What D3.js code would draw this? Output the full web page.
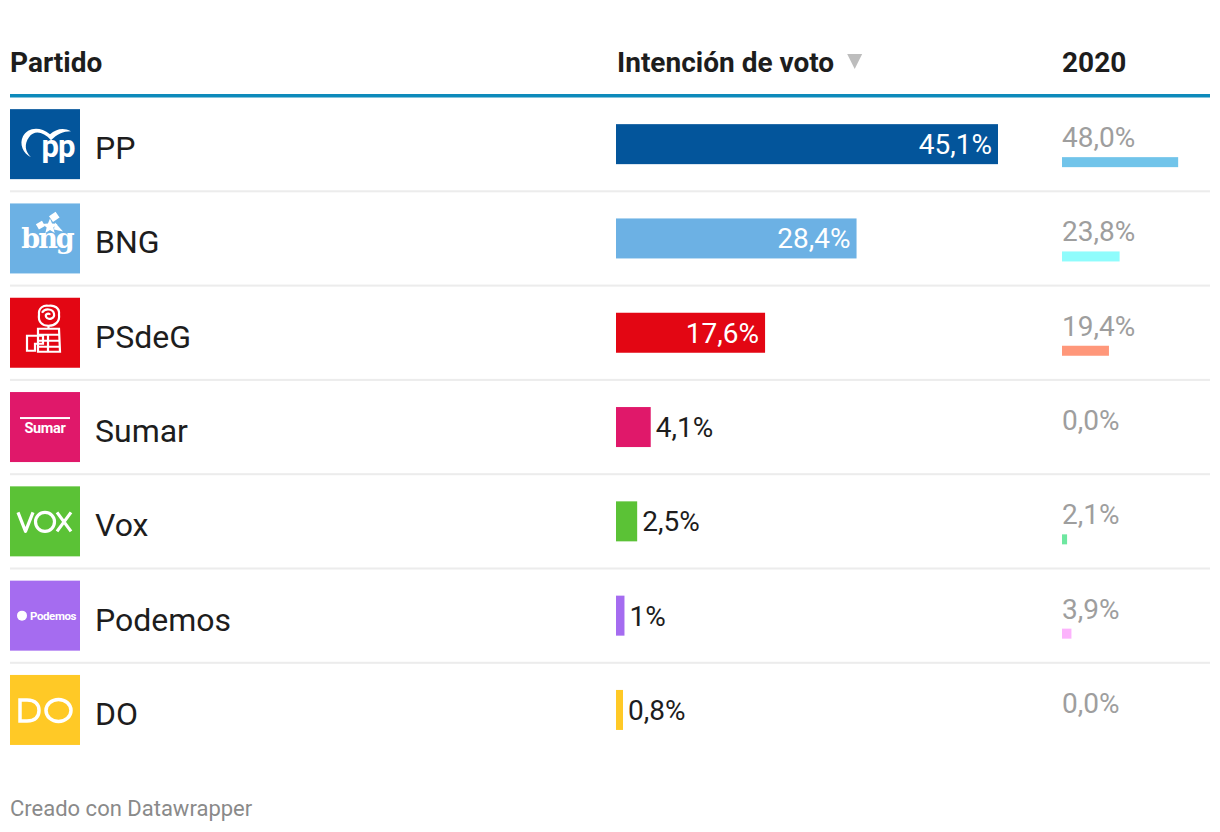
<!DOCTYPE html>
<html>
<head>
<meta charset="utf-8">
<script src="https://cdn.jsdelivr.net/npm/d3@7"></script>
<style>
  html, body { margin: 0; padding: 0; background: #ffffff; }
  svg { display: block; font-family: Roboto, "Noto Sans", Arial, sans-serif; }
</style>
</head>
<body>
<svg id="chart" width="1220" height="832"></svg>
<script>
// ---- data ----
const parties    = ["PP", "BNG", "PSdeG", "Sumar", "Vox", "Podemos", "DO"];
const votes      = [45.1, 28.4, 17.6, 4.1, 2.5, 1, 0.8];
const votes2020  = [48.0, 23.8, 19.4, 0.0, 2.1, 3.9, 0.0];
const colors     = ["#03559b", "#6cb1e4", "#e30613", "#e0186a", "#5bc236", "#a56cf0", "#ffc926"];
const colors2020 = ["#71c4ea", "#8ffcfc", "#ff977a", "#f08ab0", "#6ee7a0", "#fcb3fc", "#ffe08a"];
const headers    = ["Partido", "Intención de voto", "2020"];
const footer     = "Creado con Datawrapper";

const rows = parties.map((p, i) => ({ party: p, v: votes[i], v20: votes2020[i], c: colors[i], c20: colors2020[i] }));

const svg = d3.select("#chart");

// scales
const y = d3.scaleBand().domain(parties).range([97, 97 + 7 * 94.3]).paddingInner(0).paddingOuter(0);
const bw = y.bandwidth();
const x = d3.scaleLinear().domain([0, 50]).range([616, 616 + 423.5]);
const x20 = d3.scaleLinear().domain([0, 50]).range([1062, 1062 + 121]);

const fmtNow = v => String(v).replace(".", ",") + "%";
const fmt20 = v => v.toFixed(1).replace(".", ",") + "%";

// header
svg.append("text").attr("x", 10).attr("y", 72).text(headers[0])
  .attr("font-size", 28).attr("font-weight", 700).attr("fill", "#1d1d1d");
const h2 = svg.append("text").attr("x", 617).attr("y", 72).text(headers[1])
  .attr("font-size", 28).attr("font-weight", 700).attr("fill", "#1d1d1d");
svg.append("text").attr("x", 1062).attr("y", 72).text(headers[2])
  .attr("font-size", 28).attr("font-weight", 700).attr("fill", "#1d1d1d");
// sort triangle
const hb = h2.node().getBBox();
const tx = hb.x + hb.width + 13;
svg.append("path").attr("d", `M${tx},54 L${tx + 15},54 L${tx + 7.5},69 Z`).attr("fill", "#bdbdbd");

// header rule
svg.append("rect").attr("x", 10).attr("y", 94).attr("width", 1200).attr("height", 3.5).attr("fill", "#0d8abb");

// separators
svg.selectAll("rect.sep").data(parties.slice(0, -1)).join("rect").attr("class", "sep")
  .attr("x", 10).attr("width", 1200).attr("y", d => y(d) + bw - 1).attr("height", 2).attr("fill", "#ececec");

const g = svg.selectAll("g.row").data(rows).join("g").attr("class", "row")
  .attr("transform", d => `translate(0,${y(d.party) + bw / 2})`);

// logos
g.append("rect").attr("x", 10).attr("y", -35).attr("width", 70).attr("height", 70).attr("fill", d => d.c);
g.each(function (d) {
  const L = d3.select(this).append("g").attr("transform", "translate(10,-35)");
  const W = "#ffffff";
  if (d.party === "PP") {
    L.append("path").attr("fill", W)
      .attr("d", "M13,27 C17,19 29,16 40,25 C46,20 53,18 61,22 C53,22 47,25 41,31 C33,22 24,21 19,28 C14,35 15,42 21,48 C13,44 9,35 13,27 Z");
    L.append("text").attr("x", 48).attr("y", 48).attr("text-anchor", "middle")
      .attr("font-size", 31).attr("font-weight", 700).attr("fill", W).attr("letter-spacing", -1).text("pp");
  } else if (d.party === "BNG") {
    L.append("text").attr("x", 37).attr("y", 45).attr("text-anchor", "middle")
      .attr("font-family", "'DejaVu Serif', serif").attr("font-size", 27).attr("font-weight", 700)
      .attr("letter-spacing", -2).attr("fill", W).text("bng");
    const star = d3.range(10).map(k => {
      const r = k % 2 === 0 ? 8 : 3.5;
      const a = -Math.PI / 2 + k * Math.PI / 5;
      return [40 + r * Math.cos(a), 23 + r * Math.sin(a)];
    });
    L.append("path").attr("fill", W).attr("d", "M" + star.join("L") + "Z");
    L.append("rect").attr("x", 27).attr("y", 19).attr("width", 7).attr("height", 6).attr("fill", W)
      .attr("transform", "rotate(-30 30 22)");
    L.append("rect").attr("x", 40).attr("y", 10).attr("width", 8).attr("height", 7).attr("fill", W)
      .attr("transform", "rotate(-35 44 13)");
    L.append("path").attr("fill", W).attr("d", "M45,19 L53,28 L44,26 Z");
  } else if (d.party === "PSdeG") {
    const s = L.append("g").attr("fill", "none").attr("stroke", W).attr("stroke-width", 2.2);
    s.append("path").attr("d", "M29,17 C28,10 34,7 38.5,8 C44,7 50,10 49,17 C50,24 45,28 38.5,28 C32,28 28,24 29,17 Z");
    s.append("path").attr("d", "M32,15 C35,10 43,11 44,16 C45,21 38,23 36,19 C35,16 39,15 40,17");
    s.append("path").attr("d", "M38.5,28 L38.5,31");
    s.append("path").attr("d", "M28,31 L49,31 L50,54 L28,54 Z");
    s.append("path").attr("d", "M28,37 L49,37 M28,43 L49,43 M28,49 L49,49 M38,37 L38,54");
    s.append("path").attr("d", "M17,38 L33,38 L33,46 L25,46 L25,53 L17,53 Z");
  } else if (d.party === "Sumar") {
    L.append("rect").attr("x", 10).attr("y", 25).attr("width", 50).attr("height", 2).attr("fill", W);
    L.append("text").attr("x", 35).attr("y", 41).attr("text-anchor", "middle")
      .attr("font-size", 14.5).attr("font-weight", 700).attr("letter-spacing", -0.3).attr("fill", W).text("Sumar");
  } else if (d.party === "Vox") {
    const s = L.append("g").attr("fill", "none").attr("stroke", W).attr("stroke-width", 3.2).attr("stroke-linejoin", "round");
    s.append("path").attr("d", "M8,26 L15.5,45 L23,26");
    s.append("ellipse").attr("cx", 35).attr("cy", 35.5).attr("rx", 9.5).attr("ry", 9.5);
    s.append("path").attr("d", "M47,26 L61,45 M61,26 L47,45");
  } else if (d.party === "Podemos") {
    L.append("circle").attr("cx", 12).attr("cy", 35).attr("r", 5).attr("fill", W);
    L.append("text").attr("x", 20).attr("y", 39).attr("font-size", 11.5).attr("font-weight", 700)
      .attr("letter-spacing", -0.4).attr("fill", W).text("Podemos");
  } else if (d.party === "DO") {
    const s = L.append("g").attr("fill", "none").attr("stroke", W).attr("stroke-width", 3.5);
    s.append("path").attr("d", "M10,25 L10,46 L17,46 C26,46 29,41 29,35.5 C29,30 26,25 17,25 Z");
    s.append("ellipse").attr("cx", 48.5).attr("cy", 35.5).attr("rx", 12.5).attr("ry", 11);
  }
});

// party names
g.append("text").attr("x", 95).attr("y", 15).text(d => d.party)
  .attr("font-size", 32).attr("fill", "#1d1d1d");

// current bars
g.append("rect").attr("x", x(0)).attr("y", -20).attr("height", 40)
  .attr("width", d => Math.max(x(d.v) - x(0), 7)).attr("fill", d => d.c);
g.append("text")
  .each(function (d) {
    const w = Math.max(x(d.v) - x(0), 7);
    const inside = w > 100;
    d3.select(this)
      .attr("x", inside ? x(0) + w - 6 : x(0) + w + 5)
      .attr("text-anchor", inside ? "end" : "start")
      .attr("fill", inside ? "#ffffff" : "#1d1d1d");
  })
  .attr("y", 10).attr("font-size", 28).text(d => fmtNow(d.v));

// 2020 column
g.append("text").attr("x", x20(0)).attr("y", 3).attr("font-size", 28).attr("fill", "#9e9e9e")
  .text(d => fmt20(d.v20));
g.filter(d => d.v20 > 0).append("rect").attr("x", x20(0)).attr("y", 13).attr("height", 10)
  .attr("width", d => Math.max(x20(d.v20) - x20(0), 5)).attr("fill", d => d.c20);

// footer
svg.append("text").attr("x", 10).attr("y", 816).attr("font-size", 22).attr("fill", "#8a8a8a").text(footer);
</script>
</body>
</html>
